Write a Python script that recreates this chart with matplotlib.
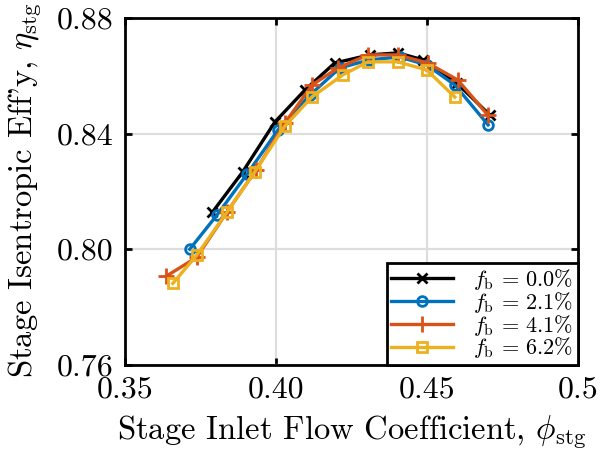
import matplotlib
matplotlib.use("Agg")
import matplotlib.pyplot as plt

plt.rcParams['mathtext.fontset'] = 'cm'
plt.rcParams['font.family'] = ['cmr10', 'DejaVu Serif']
plt.rcParams['axes.unicode_minus'] = False

# data
phi_0 = [0.379, 0.389, 0.3997, 0.4096, 0.4195, 0.4311, 0.4404, 0.4487, 0.4599, 0.4709]
eta_0 = [0.8128, 0.8267, 0.8440, 0.8550, 0.8644, 0.8672, 0.8679, 0.8655, 0.8575, 0.8464]

phi_2 = [0.3715, 0.3805, 0.3905, 0.4007, 0.4113, 0.4212, 0.4310, 0.4410, 0.4500, 0.4593, 0.4703]
eta_2 = [0.8000, 0.8118, 0.8260, 0.8412, 0.8533, 0.8627, 0.8655, 0.8665, 0.8637, 0.8568, 0.8430]

phi_4 = [0.3636, 0.3738, 0.3838, 0.3935, 0.4030, 0.4120, 0.4206, 0.4305, 0.4404, 0.4503, 0.4603, 0.4702]
eta_4 = [0.7906, 0.7972, 0.8128, 0.8275, 0.8436, 0.8568, 0.8627, 0.8672, 0.8672, 0.8644, 0.8585, 0.8464]

phi_6 = [0.3659, 0.3738, 0.3838, 0.3930, 0.4030, 0.4119, 0.4222, 0.4305, 0.4404, 0.4500, 0.4593]
eta_6 = [0.7882, 0.7979, 0.8128, 0.8267, 0.8426, 0.8526, 0.8603, 0.8648, 0.8648, 0.8620, 0.8526]

labels = ['0.0', '2.1', '4.1', '6.2']
xticks = [0.35, 0.40, 0.45, 0.5]
xtick_labels = ['0.35', '0.40', '0.45', '0.5']
yticks = [0.76, 0.80, 0.84, 0.88]
ytick_labels = ['0.76', '0.80', '0.84', '0.88']

fig = plt.figure(figsize=(6, 4.59), dpi=100)
ax = fig.add_axes([0.208, 0.205, 0.755, 0.756])

series = [(phi_0, eta_0, 'k', 'x', 7), (phi_2, eta_2, '#0072BD', 'o', 7),
          (phi_4, eta_4, '#D95319', '+', 11), (phi_6, eta_6, '#EDB120', 's', 7)]
for (x, y, c, m, ms), lab in zip(series, labels):
    ax.plot(x, y, color=c, marker=m, ms=ms, lw=2.4, mew=2, mfc='none',
            label=r'$f_{\rm b}\,=\,' + lab + r'\%$')

ax.set_xlim(0.35, 0.5)
ax.set_ylim(0.76, 0.88)
ax.set_xticks(xticks)
ax.set_xticklabels(xtick_labels, fontsize=23)
ax.set_yticks(yticks)
ax.set_yticklabels(ytick_labels, fontsize=23)
ax.grid(True, color='#dddddd', lw=1.6)
ax.set_axisbelow(True)
ax.tick_params(direction='in', length=5, width=2, top=True, right=True, pad=8)
for s in ax.spines.values():
    s.set_linewidth(2)

ax.set_xlabel(r'Stage Inlet Flow Coefficient, $\phi_{\rm stg}$', fontsize=23.5)
ax.xaxis.set_label_coords(0.5, -0.14)
ax.set_ylabel(r"Stage Isentropic Eff'y, $\eta_{\rm stg}$", fontsize=23.5)
ax.yaxis.set_label_coords(-0.178, 0.505)

leg = ax.legend(loc='lower right', fontsize=16, fancybox=False, framealpha=1,
                edgecolor='k', borderaxespad=0, handlelength=2.8,
                labelspacing=-0.1, borderpad=0.2, handletextpad=0.9)
leg.get_frame().set_linewidth(2)

fig.savefig('out.png', dpi=100)
